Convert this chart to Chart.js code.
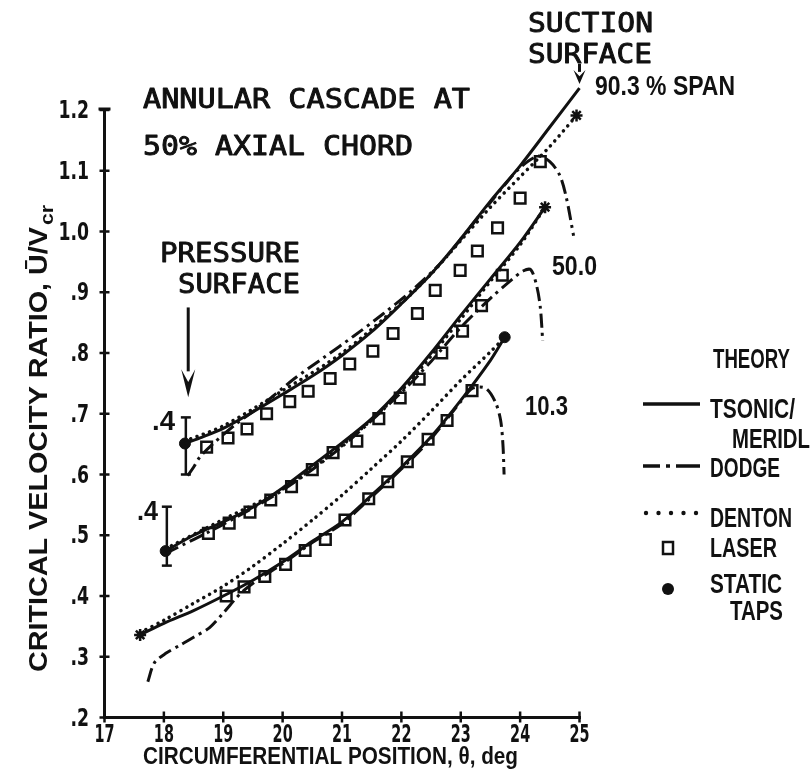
<!DOCTYPE html>
<html><head><meta charset="utf-8">
<script src="https://cdn.jsdelivr.net/npm/chart.js@4.4.0/dist/chart.umd.min.js"></script>
<style>html,body{margin:0;padding:0;background:#fff}#wrap{width:810px;height:784px;position:relative}</style>
</head><body><div id="wrap"><canvas id="c"></canvas></div>
<script>
// ---------- tick labels ----------
const xTickLabels = ['17','18','19','20','21','22','23','24','25'];
const yTickLabels = ['.2','.3','.4','.5','.6','.7','.8','.9','1.0','1.1','1.2'];

// ---------- 90.3 % span ----------
const tsonicTopX = [18.35, 18.6, 19.0, 19.5, 20.0, 20.5, 21.0, 21.5, 22.0, 22.5, 23.0, 23.5, 24.0, 24.5, 25.0];
const tsonicTopY = [0.651, 0.66, 0.676, 0.703, 0.732, 0.762, 0.796, 0.835, 0.881, 0.93, 0.988, 1.05, 1.108, 1.172, 1.236];
const dodgeTopX = [18.4, 18.5, 18.6, 18.8, 19.2, 19.7, 20.2, 20.7, 21.2, 21.7, 22.2, 22.7, 23.2, 23.7, 24.0, 24.3, 24.5, 24.67, 24.78, 24.9];
const dodgeTopY = [0.598, 0.612, 0.628, 0.648, 0.682, 0.718, 0.758, 0.793, 0.828, 0.865, 0.905, 0.952, 1.012, 1.072, 1.105, 1.124, 1.115, 1.092, 1.055, 0.993];
const dentonTopX = [18.35, 19.0, 20.0, 21.0, 22.0, 22.5, 23.0, 23.5, 24.0, 24.5, 24.95];
const dentonTopY = [0.655, 0.68, 0.738, 0.80, 0.882, 0.93, 0.985, 1.04, 1.09, 1.14, 1.191];
const laserTopX = [18.72, 19.08, 19.40, 19.73, 20.12, 20.43, 20.80, 21.13, 21.52, 21.86, 22.27, 22.57, 22.99, 23.28, 23.62, 24.0, 24.34];
const laserTopY = [0.645, 0.66, 0.675, 0.70, 0.72, 0.737, 0.758, 0.782, 0.803, 0.832, 0.865, 0.903, 0.936, 0.968, 1.006, 1.055, 1.115];

// ---------- 50.0 % span ----------
const tsonicMidX = [18.03, 18.5, 19.0, 19.5, 20.0, 20.5, 21.0, 21.5, 22.0, 22.5, 23.0, 23.5, 24.0, 24.42];
const tsonicMidY = [0.474, 0.50, 0.522, 0.546, 0.578, 0.615, 0.652, 0.692, 0.742, 0.80, 0.862, 0.922, 0.982, 1.04];
const dodgeMidX = [18.03, 19.0, 20.0, 21.0, 22.0, 22.5, 23.0, 23.5, 23.85, 24.05, 24.18, 24.28, 24.34, 24.38];
const dodgeMidY = [0.47, 0.518, 0.574, 0.646, 0.735, 0.786, 0.842, 0.89, 0.92, 0.935, 0.937, 0.91, 0.875, 0.82];
const dentonMidX = [18.03, 19.0, 20.0, 21.0, 22.0, 23.0, 23.5, 24.0, 24.42];
const dentonMidY = [0.478, 0.526, 0.576, 0.648, 0.738, 0.856, 0.918, 0.978, 1.04];
const laserMidX = [18.75, 19.1, 19.45, 19.8, 20.15, 20.5, 20.85, 21.25, 21.62, 21.98, 22.3, 22.68, 23.03, 23.35, 23.7];
const laserMidY = [0.503, 0.52, 0.538, 0.558, 0.58, 0.608, 0.636, 0.655, 0.692, 0.726, 0.757, 0.80, 0.836, 0.878, 0.928];

// ---------- 10.3 % span ----------
const tsonicBotX = [17.6, 18.0, 18.5, 19.0, 19.5, 20.0, 20.5, 21.0, 21.5, 22.0, 22.5, 23.0, 23.5, 23.74];
const tsonicBotY = [0.336, 0.355, 0.376, 0.40, 0.426, 0.456, 0.49, 0.522, 0.566, 0.612, 0.662, 0.722, 0.788, 0.826];
const dodgeBotX = [17.73, 17.84, 18.04, 18.27, 18.5, 18.77, 19.0, 19.3, 19.6, 20.0, 20.5, 21.0, 21.5, 22.0, 22.5, 23.0, 23.2, 23.42, 23.58, 23.67, 23.71, 23.73];
const dodgeBotY = [0.259, 0.29, 0.306, 0.319, 0.332, 0.348, 0.372, 0.405, 0.428, 0.453, 0.488, 0.519, 0.563, 0.609, 0.659, 0.72, 0.742, 0.742, 0.72, 0.69, 0.65, 0.60];
const dentonBotX = [17.6, 18.0, 18.5, 19.0, 19.5, 20.0, 20.5, 21.0, 21.5, 22.0, 22.5, 23.0, 23.5, 23.74];
const dentonBotY = [0.34, 0.36, 0.388, 0.416, 0.449, 0.486, 0.525, 0.566, 0.61, 0.655, 0.704, 0.755, 0.802, 0.826];
const laserBotX = [19.05, 19.35, 19.7, 20.05, 20.38, 20.72, 21.05, 21.45, 21.77, 22.1, 22.45, 22.77, 23.19];
const laserBotY = [0.40, 0.415, 0.432, 0.452, 0.475, 0.493, 0.525, 0.56, 0.588, 0.621, 0.658, 0.689, 0.738];

// ---------- static taps, end markers, error bars ----------
const staticX = [18.355, 18.03, 23.74];
const staticY = [0.651, 0.474, 0.826];
const endStarX = [24.95, 24.42, 17.6];
const endStarY = [1.191, 1.04, 0.336];
const errX = [18.37, 18.05];
const errLow = [0.60, 0.45];
const errHigh = [0.694, 0.547];

// ---------- annotation anchors (data units) ----------
const pressureArrow = {x: 18.41, from: 0.875, to: 0.727};
const suctionArrow = {x: 25.0, from: 1.276, to: 1.243};

const INK = '#111';
const xy = (xs, ys) => xs.map((x, i) => ({x: x, y: ys[i]}));

function solid(xs, ys) {
  return {data: xy(xs, ys), showLine: true, borderColor: INK, borderWidth: 3, tension: 0.3, pointRadius: 0, clip: false};
}
function dodge(xs, ys) {
  return {data: xy(xs, ys), showLine: true, borderColor: INK, borderWidth: 3, borderDash: [14, 5, 3, 5], tension: 0.3, pointRadius: 0, clip: false};
}
function denton(xs, ys) {
  return {data: xy(xs, ys), showLine: true, borderColor: INK, borderWidth: 3.5, borderDash: [0.1, 6.5], borderCapStyle: 'round', tension: 0.3, pointRadius: 0, clip: false};
}
function laser(xs, ys) {
  return {data: xy(xs, ys), showLine: false, pointStyle: 'rect', pointRadius: 7.5, pointBorderWidth: 2.5, pointBorderColor: INK, pointBackgroundColor: 'rgba(255,255,255,0)', clip: false};
}

const datasets = [
  solid(tsonicTopX, tsonicTopY), dodge(dodgeTopX, dodgeTopY), denton(dentonTopX, dentonTopY), laser(laserTopX, laserTopY),
  solid(tsonicMidX, tsonicMidY), dodge(dodgeMidX, dodgeMidY), denton(dentonMidX, dentonMidY), laser(laserMidX, laserMidY),
  solid(tsonicBotX, tsonicBotY), dodge(dodgeBotX, dodgeBotY), denton(dentonBotX, dentonBotY), laser(laserBotX, laserBotY),
  {data: xy(staticX, staticY), showLine: false, pointStyle: 'circle', pointRadius: 5.5, pointBackgroundColor: INK, pointBorderColor: INK, clip: false},
  {data: xy(endStarX, endStarY), showLine: false, pointStyle: 'star', pointRadius: 6, pointBorderWidth: 2.5, pointBorderColor: INK, clip: false}
];
errX.forEach((x, i) => {
  datasets.push({data: [{x: x, y: errLow[i]}, {x: x, y: errHigh[i]}], showLine: true, borderColor: INK, borderWidth: 2.5,
    pointStyle: 'line', pointRadius: 5, pointBorderWidth: 2.5, pointBorderColor: INK, clip: false});
});

// draw text fitted to a width (w) or scaled horizontally by factor (sx); optional outline thickening (th)
function T(ctx, s, x, y, font, w, align, sx, th) {
  ctx.save();
  ctx.font = font;
  const m = ctx.measureText(s).width;
  const k = w ? w / m : (sx || 1);
  const tw = m * k;
  let x0 = x;
  if (align === 'center') x0 = x - tw / 2;
  else if (align === 'right') x0 = x - tw;
  ctx.translate(x0, y);
  ctx.scale(k, 1);
  ctx.textBaseline = 'alphabetic';
  ctx.textAlign = 'left';
  ctx.fillText(s, 0, 0);
  if (th) { ctx.lineWidth = th; ctx.lineJoin = 'round'; ctx.strokeText(s, 0, 0); }
  ctx.restore();
}

function arrowDown(ctx, x, y0, y1, headLen, headW) {
  ctx.beginPath(); ctx.moveTo(x, y0); ctx.lineTo(x, y1 - headLen + 2); ctx.stroke();
  ctx.beginPath();
  ctx.moveTo(x, y1);
  ctx.lineTo(x - headW / 2, y1 - headLen);
  ctx.lineTo(x, y1 - headLen * 0.55);
  ctx.lineTo(x + headW / 2, y1 - headLen);
  ctx.closePath(); ctx.fill();
}

const MONO = '26px "DejaVu Sans Mono", "Liberation Mono", monospace';
const BOLD = 'bold 27px "Liberation Sans", Arial, sans-serif';
const TICKF = 'bold 24px "DejaVu Sans", sans-serif';

const annot = {
  id: 'annot',
  afterDraw(chart) {
    const ctx = chart.ctx;
    const sx = chart.scales.x, sy = chart.scales.y;
    const X = v => sx.getPixelForValue(v), Y = v => sy.getPixelForValue(v);
    ctx.save();
    ctx.fillStyle = INK; ctx.strokeStyle = INK;
    // axes
    const x0 = X(17), y0 = Y(0.2);
    ctx.lineWidth = 3; ctx.lineCap = 'butt';
    ctx.beginPath(); ctx.moveTo(x0, Y(1.2) - 1); ctx.lineTo(x0, y0); ctx.lineTo(X(25) + 1.5, y0); ctx.stroke();
    ctx.beginPath(); ctx.moveTo(x0 - 6, Y(1.2) - 1); ctx.lineTo(x0 + 6, Y(1.2) - 1); ctx.stroke();
    // y ticks + labels
    ctx.lineWidth = 2.5;
    sy.ticks.forEach((t, i) => {
      const py = Y(t.value);
      ctx.beginPath(); ctx.moveTo(x0 - 5, py); ctx.lineTo(x0 + 5, py); ctx.stroke();
      T(ctx, yTickLabels[i], 89, py + 8, TICKF, 0, 'right', 0.72);
    });
    sx.ticks.forEach((t, i) => {
      const px = X(t.value);
      ctx.beginPath(); ctx.moveTo(px, y0 - 6); ctx.lineTo(px, y0 + 5); ctx.stroke();
      T(ctx, xTickLabels[i], px, 742, TICKF, 0, 'center', 0.6);
    });
    // axis titles
    T(ctx, 'CIRCUMFERENTIAL POSITION, θ, deg', 143, 764, 'bold 24px "Liberation Sans", Arial, sans-serif', 375);
    ctx.save();
    ctx.translate(47, 672); ctx.rotate(-Math.PI / 2);
    T(ctx, 'CRITICAL VELOCITY RATIO, Ū/V', 0, 0, 'bold 25px "Liberation Sans", Arial, sans-serif', 445);
    T(ctx, 'cr', 447, 6, 'bold 19px "Liberation Sans", Arial, sans-serif', 20);
    ctx.restore();
    // titles (typewriter lettering)
    T(ctx, 'ANNULAR CASCADE AT', 143, 108, MONO, 327, 'left', 0, 0.9);
    T(ctx, '50% AXIAL CHORD', 143, 155, MONO, 270, 'left', 0, 0.9);
    T(ctx, 'PRESSURE', 160, 262, MONO, 140, 'left', 0, 0.9);
    T(ctx, 'SURFACE', 178, 293, MONO, 122, 'left', 0, 0.9);
    T(ctx, 'SUCTION', 528, 32, MONO, 125, 'left', 0, 0.9);
    T(ctx, 'SURFACE', 528, 63, MONO, 124, 'left', 0, 0.9);
    // arrows
    ctx.lineWidth = 3;
    arrowDown(ctx, X(pressureArrow.x), Y(pressureArrow.from), Y(pressureArrow.to), 28, 14);
    arrowDown(ctx, X(suctionArrow.x), Y(suctionArrow.from), Y(suctionArrow.to), 14, 12);
    // span labels
    T(ctx, '90.3 % SPAN', 595, 95, BOLD, 140);
    T(ctx, '50.0', 552, 275, BOLD, 45);
    T(ctx, '10.3', 525, 415, BOLD, 43);
    T(ctx, '.4', 152, 430, BOLD, 23);
    T(ctx, '.4', 137, 520, BOLD, 21);
    // legend
    T(ctx, 'THEORY', 713, 368, BOLD, 77);
    T(ctx, 'TSONIC/', 710, 418, BOLD, 85);
    T(ctx, 'MERIDL', 732, 448, BOLD, 78);
    T(ctx, 'DODGE', 710, 477, BOLD, 70);
    T(ctx, 'DENTON', 710, 527, BOLD, 82);
    T(ctx, 'LASER', 710, 557, BOLD, 67);
    T(ctx, 'STATIC', 710, 593, BOLD, 72);
    T(ctx, 'TAPS', 730, 620, BOLD, 53);
    ctx.lineWidth = 3.5;
    ctx.beginPath(); ctx.moveTo(643, 404); ctx.lineTo(700, 404); ctx.stroke();
    ctx.setLineDash([17, 6, 4, 6, 30]);
    ctx.beginPath(); ctx.moveTo(643, 466); ctx.lineTo(700, 466); ctx.stroke();
    ctx.setLineDash([]);
    for (let i = 0; i < 5; i++) { ctx.beginPath(); ctx.arc(646 + i * 12.5, 513, 2.2, 0, Math.PI * 2); ctx.fill(); }
    ctx.lineWidth = 2.5; ctx.strokeRect(663, 542, 10, 12);
    ctx.beginPath(); ctx.arc(668, 589, 6, 0, Math.PI * 2); ctx.fill();
    ctx.restore();
  }
};

new Chart(document.getElementById('c'), {
  type: 'scatter',
  data: {datasets: datasets},
  options: {
    responsive: true, maintainAspectRatio: false, animation: false,
    layout: {padding: {left: 0, top: 110, right: 230.5, bottom: 0}},
    plugins: {legend: {display: false}, tooltip: {enabled: false}},
    scales: {
      x: {type: 'linear', min: 17, max: 25, ticks: {stepSize: 1, display: false}, grid: {display: false}, border: {display: false},
          afterFit: s => { s.height = 66.5; }},
      y: {type: 'linear', min: 0.2, max: 1.2, ticks: {stepSize: 0.1, display: false}, grid: {display: false}, border: {display: false},
          afterFit: s => { s.width = 104.5; }}
    }
  },
  plugins: [annot]
});
</script></body></html>
